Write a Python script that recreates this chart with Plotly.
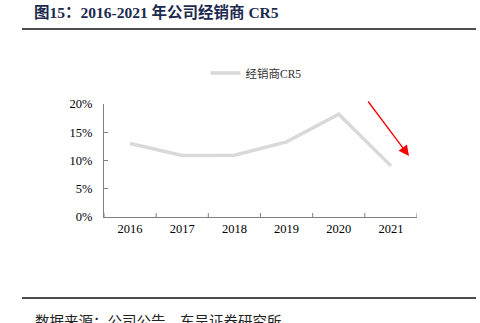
import plotly.graph_objects as go

years = ["2016", "2017", "2018", "2019", "2020", "2021"]
cr5 = [13.0, 10.9, 10.95, 13.3, 18.2, 9.05]
series_name = "经销商CR5"
y_ticks = [0, 5, 10, 15, 20]
y_tick_labels = ["0%", "5%", "10%", "15%", "20%"]
title_text = "图15：2016-2021 年公司经销商 CR5"
source_text = "数据来源：公司公告，东吴证券研究所"

W, H = 480, 323
fig = go.Figure()
fig.add_trace(go.Scatter(
    x=list(range(len(years))), y=cr5, mode="lines", name=series_name,
    line=dict(color="#d9d9d9", width=3.5), showlegend=True,
))

serif = "Liberation Serif, Noto Sans CJK SC, serif"
PW, PH = W - 167, H - 210
def px(x):
    return (x - 104) / PW
def py(y):
    return (H - 106 - y) / PH

fig.update_layout(
    width=W, height=H, margin=dict(l=104, r=63, t=104, b=106),
    paper_bgcolor="white", plot_bgcolor="white",
    font=dict(family=serif, size=12.5, color="#000000"),
    showlegend=True,
    legend=dict(orientation="h", x=px(256), y=py(73), xanchor="center", yanchor="middle",
                font=dict(family=serif, size=11.5, color="#333333"),
                itemwidth=30),
    xaxis=dict(range=[-0.5, 5.5], tickvals=list(range(len(years))), ticktext=years,
               showgrid=False, zeroline=False, showline=True, linecolor="#7f7f7f",
               linewidth=1, ticks="", fixedrange=True),
    yaxis=dict(range=[0, 20], tickvals=y_ticks, ticktext=y_tick_labels,
               showgrid=False, zeroline=False, showline=True, linecolor="#7f7f7f",
               linewidth=1, ticks="inside", ticklen=4, tickcolor="#7f7f7f",
               ticklabelstandoff=8, fixedrange=True),
)
# category boundary ticks on x axis (inside)
for i in range(len(years) + 1):
    fig.add_shape(type="line", xref="x", yref="paper", x0=i - 0.5, x1=i - 0.5,
                  y0=0, y1=0.035, line=dict(color="#7f7f7f", width=1))

# header / footer rules
fig.add_shape(type="line", xref="paper", yref="paper",
              x0=px(22), x1=px(476), y0=py(29), y1=py(29),
              line=dict(color="#111111", width=1.5))
fig.add_shape(type="line", xref="paper", yref="paper",
              x0=px(22), x1=px(476), y0=py(298), y1=py(298),
              line=dict(color="#111111", width=1.5))

fig.add_annotation(text="<b>" + title_text + "</b>", xref="paper", yref="paper",
                   x=px(32), y=py(12),
                   xanchor="left", yanchor="middle", showarrow=False,
                   font=dict(family=serif, size=15.5, color="#1b2a4e"))
fig.add_annotation(text=source_text, xref="paper", yref="paper",
                   x=px(33), y=py(322),
                   xanchor="left", yanchor="middle", showarrow=False,
                   font=dict(family=serif, size=14.5, color="#222222"))

# red trend arrow
fig.add_annotation(xref="x domain", yref="y domain",
                   x=px(409), y=py(156),
                   ax=px(367), ay=py(100),
                   axref="x domain", ayref="y domain", text="", showarrow=True,
                   arrowhead=2, arrowsize=1.6, arrowwidth=1.3, arrowcolor="#ff0000")

fig.write_html("out.html")
